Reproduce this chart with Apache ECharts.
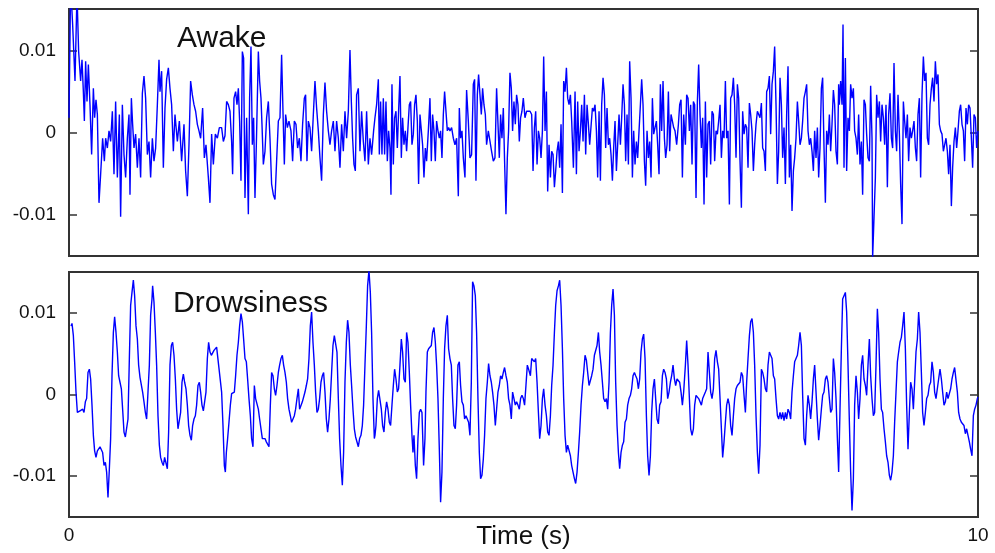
<!DOCTYPE html>
<html>
<head>
<meta charset="utf-8">
<script src="https://cdn.jsdelivr.net/npm/echarts@6/dist/echarts.min.js"></script>
<style>
  html, body { margin: 0; padding: 0; background: #fff; }
  #chart { width: 995px; height: 553px; }
</style>
</head>
<body>
<div id="chart"></div>
<script>
// amplitudes are read in units of 1e-3 (same unit as axis labels / 1000)
const UNIT = 1e-3;
const yTicks = [-0.01, 0, 0.01];
const xTicks = [0, 10];
const panelTitles = ['Awake', 'Drowsiness'];
const xTitle = 'Time (s)';

// [time (s), amplitude x1e-3]
const awake = [
  [0.000,1.8],[0.018,18],[0.040,13.2],[0.066,6.3],[0.088,17],[0.106,9.9],[0.128,6.3],[0.143,8.9],[0.158,5.0],[0.169,1.4],
  [0.183,8.7],[0.198,3.8],[0.213,8.3],[0.231,3.4],[0.249,-2.7],[0.268,5.4],[0.282,1.8],[0.297,4.0],[0.312,2.2],[0.330,-8.6],
  [0.348,-5.1],[0.370,-0.7],[0.389,-3.5],[0.403,-0.7],[0.422,-1.9],[0.440,0.2],[0.458,-1.1],[0.477,2.6],[0.495,-5.1],[0.513,3.8],
  [0.532,-5.5],[0.554,2.2],[0.568,-10.3],[0.587,3.4],[0.605,-2.7],[0.623,-5.5],[0.642,-0.7],[0.660,2.2],[0.671,-7.6],[0.686,4.2],
  [0.700,1.0],[0.715,-1.9],[0.733,-0.2],[0.752,-4.3],[0.770,-0.7],[0.788,-5.5],[0.807,4.8],[0.825,6.9],[0.843,4.2],[0.862,-2.7],
  [0.880,-1.1],[0.898,-5.5],[0.917,-0.7],[0.935,-3.5],[0.953,-1.9],[0.972,3.4],[0.990,8.9],[1.001,5.0],[1.019,7.5],[1.038,-4.3],
  [1.056,3.0],[1.074,6.5],[1.093,7.9],[1.111,5.4],[1.129,3.4],[1.148,-2.3],[1.166,2.2],[1.192,-1.1],[1.214,1.4],[1.239,-3.5],
  [1.265,1.0],[1.283,-4.7],[1.302,-7.8],[1.320,-1.5],[1.338,6.3],[1.357,4.6],[1.375,3.4],[1.393,2.6],[1.412,1.0],[1.430,0.2],
  [1.448,-0.7],[1.470,3.0],[1.489,-3.1],[1.507,-1.5],[1.533,-5.5],[1.551,-8.6],[1.569,-0.2],[1.588,-3.9],[1.610,-0.2],[1.632,-0.7],
  [1.654,0.6],[1.679,0.6],[1.698,-1.1],[1.716,-0.4],[1.734,3.8],[1.753,3.4],[1.771,2.6],[1.789,-1.1],[1.800,-5.1],[1.815,4.2],
  [1.833,5.0],[1.848,3.4],[1.863,5.4],[1.877,1.4],[1.892,-5.9],[1.907,9.9],[1.921,9.1],[1.936,-8.0],[1.954,1.8],[1.973,-10.0],
  [1.987,4.2],[2.002,10.5],[2.017,-1.5],[2.031,1.8],[2.046,-8.0],[2.061,-1.5],[2.083,9.9],[2.097,6.3],[2.112,4.2],[2.123,1.0],
  [2.138,-3.9],[2.156,-2.3],[2.174,1.8],[2.193,3.8],[2.211,-0.7],[2.229,-6.3],[2.248,-7.6],[2.266,-8.2],[2.284,-3.5],[2.303,1.4],
  [2.321,1.8],[2.339,9.5],[2.354,2.6],[2.369,-3.9],[2.383,2.2],[2.402,0.6],[2.420,1.4],[2.442,0.2],[2.460,-3.5],[2.479,1.4],
  [2.497,1.0],[2.515,-1.9],[2.534,-0.7],[2.552,-3.5],[2.570,1.0],[2.589,4.2],[2.603,4.6],[2.618,-3.5],[2.633,1.4],[2.651,0.6],
  [2.669,-2.3],[2.688,2.2],[2.706,6.3],[2.724,3.0],[2.743,0.2],[2.761,-3.1],[2.779,-5.9],[2.798,2.2],[2.816,6.1],[2.834,2.6],
  [2.853,0.2],[2.871,-1.5],[2.889,0.2],[2.908,1.4],[2.926,-2.3],[2.944,1.4],[2.963,-0.7],[2.981,-4.3],[2.999,1.0],[3.018,-2.3],
  [3.036,2.6],[3.054,-0.7],[3.073,2.6],[3.091,10.1],[3.106,3.8],[3.120,-0.7],[3.135,-3.9],[3.150,-4.7],[3.164,4.6],[3.183,5.4],
  [3.201,-2.3],[3.219,2.6],[3.238,-1.1],[3.256,-3.5],[3.274,2.6],[3.293,-3.9],[3.311,-0.7],[3.329,-2.7],[3.351,0.2],[3.366,1.8],
  [3.384,3.4],[3.403,6.5],[3.414,-2.7],[3.428,3.8],[3.443,-2.7],[3.458,4.2],[3.472,-2.7],[3.487,3.8],[3.502,-3.5],[3.516,0.2],
  [3.531,-1.9],[3.542,-7.6],[3.553,5.9],[3.568,-3.9],[3.582,1.8],[3.597,2.6],[3.612,-1.9],[3.626,2.6],[3.641,6.9],[3.656,-3.1],
  [3.670,1.8],[3.685,-1.5],[3.700,0.2],[3.714,-2.3],[3.729,0.6],[3.744,3.4],[3.758,3.8],[3.773,-1.5],[3.788,-0.2],[3.802,3.4],
  [3.817,4.6],[3.832,1.4],[3.846,-6.3],[3.861,2.2],[3.876,2.4],[3.890,-1.5],[3.905,-5.5],[3.920,-1.9],[3.934,-3.5],[3.953,0.2],
  [3.971,4.2],[3.986,-3.5],[4.000,2.2],[4.015,0.2],[4.030,-3.5],[4.044,1.4],[4.059,0.2],[4.074,-0.7],[4.088,0.2],[4.103,-3.1],
  [4.118,2.2],[4.132,5.0],[4.147,5.0],[4.162,0.2],[4.176,0.6],[4.191,0.2],[4.209,0.6],[4.228,-0.7],[4.246,-1.5],[4.264,-0.7],
  [4.283,-7.8],[4.294,3.0],[4.308,-0.7],[4.323,0.2],[4.338,-3.1],[4.356,-5.5],[4.374,5.2],[4.393,1.4],[4.411,-3.1],[4.429,-2.7],
  [4.448,5.9],[4.462,6.5],[4.477,-5.9],[4.492,4.6],[4.506,7.1],[4.521,7.3],[4.536,2.2],[4.550,5.4],[4.565,3.4],[4.580,2.2],
  [4.594,-1.5],[4.613,0.2],[4.631,0.2],[4.649,-2.3],[4.668,-3.5],[4.686,-3.1],[4.704,5.4],[4.719,5.4],[4.734,-3.1],[4.748,2.2],
  [4.763,-0.7],[4.778,3.0],[4.792,-3.5],[4.807,-10.0],[4.822,-3.1],[4.836,0.2],[4.851,7.3],[4.866,5.4],[4.880,0.2],[4.895,3.8],
  [4.910,1.0],[4.924,4.6],[4.939,3.4],[4.954,-1.1],[4.968,1.8],[4.983,2.6],[4.998,4.2],[5.016,1.8],[5.034,2.6],[5.056,2.4],
  [5.072,2.6],[5.090,2.2],[5.105,-4.7],[5.120,0.6],[5.134,2.6],[5.149,-3.9],[5.164,0.2],[5.178,-0.7],[5.193,-3.1],[5.208,0.2],
  [5.222,9.3],[5.237,0.2],[5.252,5.0],[5.266,-7.2],[5.281,-1.5],[5.296,-5.5],[5.310,-2.3],[5.325,-2.7],[5.340,-6.7],[5.354,-4.7],
  [5.369,-2.3],[5.384,-1.1],[5.398,-4.3],[5.413,1.0],[5.428,-7.4],[5.442,6.3],[5.457,5.0],[5.472,7.9],[5.486,4.2],[5.501,3.4],
  [5.516,4.6],[5.530,1.4],[5.549,-4.3],[5.567,5.0],[5.582,-5.1],[5.596,3.8],[5.611,-2.3],[5.626,0.2],[5.640,3.4],[5.655,-1.1],
  [5.670,4.6],[5.684,-2.7],[5.699,3.4],[5.714,1.0],[5.728,-1.5],[5.743,-1.5],[5.758,3.0],[5.772,2.6],[5.787,3.4],[5.802,0.2],
  [5.816,-5.5],[5.831,2.6],[5.846,-5.9],[5.860,3.4],[5.875,6.7],[5.890,4.6],[5.904,-1.9],[5.919,3.0],[5.934,-1.5],[5.948,-0.7],
  [5.963,-2.7],[5.978,-5.9],[5.992,-1.9],[6.007,1.4],[6.022,-4.7],[6.036,-1.5],[6.051,2.2],[6.066,-1.5],[6.080,1.8],[6.095,5.9],
  [6.110,3.4],[6.124,-3.5],[6.139,2.2],[6.154,-3.9],[6.168,8.7],[6.183,4.2],[6.198,-5.5],[6.212,0.2],[6.227,-3.9],[6.242,-1.1],
  [6.256,-3.1],[6.271,0.2],[6.286,3.4],[6.300,6.5],[6.315,3.4],[6.330,-3.5],[6.344,-6.5],[6.359,0.2],[6.374,-3.1],[6.388,-1.1],
  [6.403,-5.5],[6.418,4.2],[6.432,-0.2],[6.447,-0.2],[6.462,1.4],[6.476,-1.5],[6.491,-5.1],[6.506,5.9],[6.520,0.2],[6.535,6.3],
  [6.550,-0.7],[6.564,-3.1],[6.579,-1.5],[6.594,5.0],[6.608,-2.3],[6.623,2.2],[6.638,1.4],[6.652,0.6],[6.667,0.2],[6.685,-1.5],
  [6.704,1.0],[6.718,3.4],[6.733,4.0],[6.748,-5.5],[6.762,2.2],[6.781,-1.5],[6.795,4.6],[6.810,4.2],[6.825,0.2],[6.839,3.4],
  [6.854,-3.9],[6.869,3.8],[6.883,3.4],[6.898,-8.0],[6.913,3.8],[6.927,8.3],[6.942,2.2],[6.957,-1.9],[6.971,1.8],[6.986,-8.8],
  [7.001,3.8],[7.015,-5.5],[7.030,1.0],[7.045,1.4],[7.059,-3.9],[7.074,2.6],[7.089,2.2],[7.103,-3.5],[7.118,0.2],[7.133,-0.2],
  [7.147,1.4],[7.162,3.4],[7.177,-3.1],[7.191,0.2],[7.206,-0.7],[7.221,6.3],[7.235,-0.7],[7.250,0.2],[7.265,-8.8],[7.279,4.2],
  [7.294,4.6],[7.309,6.7],[7.323,3.4],[7.338,-3.1],[7.353,5.9],[7.367,4.2],[7.382,-3.5],[7.397,-9.2],[7.411,2.6],[7.426,-0.2],
  [7.441,1.0],[7.455,0.6],[7.470,-4.3],[7.485,3.6],[7.499,2.2],[7.514,0.2],[7.529,-4.7],[7.543,-1.5],[7.558,1.0],[7.573,2.6],
  [7.587,2.6],[7.602,1.8],[7.617,3.6],[7.631,-1.9],[7.646,-2.3],[7.661,-4.7],[7.675,5.0],[7.690,5.4],[7.705,6.9],[7.719,-0.2],
  [7.734,5.9],[7.749,7.5],[7.763,10.5],[7.778,3.4],[7.793,-6.3],[7.807,-2.3],[7.822,6.7],[7.837,3.4],[7.851,-3.1],[7.866,0.6],
  [7.881,-6.3],[7.895,2.2],[7.910,8.1],[7.925,-5.5],[7.939,-1.5],[7.954,-9.6],[7.969,-4.7],[7.983,-3.1],[7.998,-0.7],[8.013,3.8],
  [8.027,1.4],[8.042,-1.5],[8.057,-0.7],[8.071,1.4],[8.086,4.2],[8.101,5.0],[8.115,5.9],[8.130,0.2],[8.145,-1.5],[8.159,-0.7],
  [8.174,-2.3],[8.189,-4.7],[8.203,0.2],[8.218,-3.1],[8.233,0.6],[8.247,-5.5],[8.262,-1.9],[8.277,5.4],[8.291,6.7],[8.306,-1.9],
  [8.321,-8.6],[8.335,0.2],[8.350,-1.5],[8.365,2.2],[8.379,-2.3],[8.394,1.0],[8.409,5.2],[8.423,3.4],[8.438,-2.3],[8.453,-3.9],
  [8.467,5.9],[8.475,3.4],[8.489,6.3],[8.504,3.4],[8.515,13.2],[8.526,-4.3],[8.541,9.1],[8.555,-4.7],[8.570,1.8],[8.585,0.2],
  [8.599,5.9],[8.614,4.2],[8.629,5.4],[8.643,0.2],[8.658,-0.7],[8.673,-2.7],[8.687,2.2],[8.702,-3.9],[8.717,-1.1],[8.731,-7.6],
  [8.746,4.0],[8.761,3.4],[8.775,-0.2],[8.790,-3.1],[8.805,-3.5],[8.819,5.7],[8.834,-0.7],[8.841,-15.3],[8.856,-10.4],[8.871,-5.5],
  [8.885,4.6],[8.900,1.8],[8.915,3.8],[8.929,-1.1],[8.944,3.4],[8.959,1.8],[8.973,-1.5],[8.988,3.4],[9.003,-6.7],[9.017,2.2],
  [9.032,4.8],[9.047,-0.7],[9.061,-1.9],[9.076,8.5],[9.091,0.2],[9.105,-2.3],[9.120,4.6],[9.135,-0.2],[9.149,-6.3],[9.164,-11.2],
  [9.179,3.8],[9.193,1.4],[9.208,-0.7],[9.223,2.2],[9.237,-3.5],[9.252,0.6],[9.267,-0.7],[9.281,0.2],[9.296,1.4],[9.311,-1.9],
  [9.325,-3.5],[9.340,2.2],[9.355,4.2],[9.369,-5.5],[9.384,4.6],[9.399,9.3],[9.413,6.3],[9.428,7.3],[9.443,-0.7],[9.457,-1.5],
  [9.472,3.4],[9.487,5.4],[9.501,6.7],[9.516,3.8],[9.531,8.7],[9.545,5.9],[9.560,7.1],[9.575,1.0],[9.589,0.2],[9.604,-0.2],
  [9.619,-2.3],[9.633,-1.5],[9.648,-0.7],[9.663,-2.3],[9.677,-5.1],[9.692,-1.5],[9.707,-9.0],[9.721,-4.3],[9.736,-1.1],[9.751,0.6],
  [9.765,-1.9],[9.780,0.2],[9.795,2.6],[9.809,3.4],[9.824,1.0],[9.839,0.2],[9.853,-3.5],[9.868,3.0],[9.883,1.0],[9.897,3.4],
  [9.912,3.0],[9.927,-0.7],[9.941,-4.3],[9.956,2.2],[9.971,1.8],[9.985,-1.9],[10.000,0.2]
];

const drowsy = [
  [0.022,8.4],[0.033,8.7],[0.048,7.2],[0.062,4.0],[0.077,0.3],[0.092,-2.2],[0.106,-2.4],[0.121,-2.0],[0.136,-2.2],[0.150,-1.8],
  [0.165,-2.2],[0.180,-0.9],[0.194,-0.5],[0.209,2.7],[0.224,3.1],[0.238,1.9],[0.253,-1.3],[0.268,-5.0],[0.282,-6.9],[0.297,-7.7],
  [0.312,-6.9],[0.326,-6.7],[0.341,-6.4],[0.356,-6.2],[0.370,-7.1],[0.385,-8.7],[0.400,-8.3],[0.414,-9.5],[0.429,-12.6],[0.444,-9.1],
  [0.458,-5.4],[0.473,2.3],[0.488,7.6],[0.502,9.5],[0.517,7.6],[0.532,5.2],[0.546,2.3],[0.561,1.5],[0.576,0.7],[0.590,-1.8],
  [0.605,-4.6],[0.620,-5.2],[0.634,-5.4],[0.649,-3.0],[0.664,4.4],[0.678,10.9],[0.693,12.5],[0.708,14.0],[0.722,12.1],[0.737,8.4],
  [0.752,6.8],[0.766,3.6],[0.781,2.1],[0.796,1.9],[0.810,0.3],[0.825,-0.9],[0.840,-2.2],[0.854,-3.0],[0.869,0.3],[0.884,3.6],
  [0.898,9.7],[0.913,11.7],[0.920,13.3],[0.935,11.3],[0.950,7.6],[0.964,3.6],[0.979,-2.6],[0.994,-6.2],[1.008,-7.7],[1.023,-8.3],
  [1.038,-8.7],[1.052,-7.7],[1.067,-7.5],[1.082,-9.1],[1.096,-4.6],[1.111,3.6],[1.126,6.0],[1.140,6.4],[1.155,4.8],[1.170,1.9],
  [1.184,-1.8],[1.199,-4.2],[1.214,-4.2],[1.228,-2.2],[1.243,1.5],[1.258,2.5],[1.272,1.5],[1.287,0.7],[1.302,-1.3],[1.316,-3.8],
  [1.331,-5.0],[1.346,-5.6],[1.360,-3.8],[1.375,-3.0],[1.390,-2.6],[1.404,-1.3],[1.419,1.1],[1.434,1.5],[1.448,0.3],[1.463,-1.3],
  [1.478,-2.0],[1.492,-0.9],[1.507,0.3],[1.522,4.4],[1.536,6.4],[1.551,5.2],[1.566,4.8],[1.580,5.0],[1.595,5.4],[1.610,5.6],
  [1.624,5.8],[1.646,3.6],[1.661,3.6],[1.679,0.3],[1.694,-3.8],[1.709,-8.7],[1.720,-9.5],[1.731,-7.1],[1.745,-5.4],[1.760,-3.4],
  [1.775,-1.3],[1.789,0.1],[1.804,-0.1],[1.819,0.3],[1.833,2.3],[1.848,4.8],[1.863,6.4],[1.877,8.4],[1.892,9.9],[1.907,8.9],
  [1.921,6.8],[1.936,4.4],[1.951,4.0],[1.965,1.9],[1.980,-0.5],[1.995,-2.6],[2.009,-5.4],[2.024,-6.4],[2.039,1.1],[2.053,-0.5],
  [2.068,-0.3],[2.083,-1.8],[2.097,-3.0],[2.112,-4.2],[2.127,-5.4],[2.141,-5.6],[2.156,-5.4],[2.171,-5.8],[2.185,-5.6],[2.200,-6.4],
  [2.215,-1.3],[2.229,2.7],[2.244,2.3],[2.259,0.7],[2.273,-0.1],[2.288,1.1],[2.303,2.7],[2.317,3.6],[2.332,4.4],[2.347,4.8],
  [2.361,3.6],[2.376,2.7],[2.391,1.5],[2.405,-0.5],[2.420,-1.8],[2.435,-2.6],[2.449,-3.4],[2.464,-3.0],[2.479,-2.6],[2.493,-1.8],
  [2.508,-0.5],[2.523,0.7],[2.537,-1.8],[2.552,-1.8],[2.567,-0.9],[2.581,-0.7],[2.596,0.3],[2.611,1.1],[2.625,1.9],[2.640,4.4],
  [2.655,8.4],[2.669,10.1],[2.684,6.4],[2.699,3.6],[2.713,0.3],[2.728,-2.2],[2.743,-1.8],[2.757,-0.5],[2.772,1.5],[2.787,2.3],
  [2.801,2.7],[2.816,0.3],[2.831,-3.0],[2.845,-4.6],[2.860,-3.0],[2.875,-0.5],[2.889,2.7],[2.904,6.0],[2.919,7.2],[2.933,7.0],
  [2.948,5.2],[2.963,-0.5],[2.977,-5.4],[2.992,-8.7],[3.007,-11.1],[3.021,-7.1],[3.036,1.5],[3.051,6.4],[3.065,9.1],[3.080,7.6],
  [3.095,3.6],[3.109,1.1],[3.124,-1.8],[3.139,-4.2],[3.153,-5.2],[3.168,-5.4],[3.183,-6.4],[3.197,-5.4],[3.212,-5.0],[3.227,-3.8],
  [3.241,-1.3],[3.256,3.6],[3.271,8.4],[3.285,13.3],[3.300,15.2],[3.315,12.5],[3.329,7.6],[3.344,-0.5],[3.359,-5.4],[3.366,-5.0],
  [3.377,-3.8],[3.392,-0.5],[3.406,0.5],[3.421,0.3],[3.436,-1.8],[3.450,-3.8],[3.465,-4.6],[3.480,-2.2],[3.494,-0.9],[3.509,-1.8],
  [3.524,-3.4],[3.538,-3.8],[3.553,-1.3],[3.568,1.1],[3.582,3.1],[3.597,1.9],[3.612,0.3],[3.626,0.7],[3.641,3.6],[3.656,6.8],
  [3.670,5.2],[3.685,1.9],[3.700,1.5],[3.714,7.6],[3.729,6.4],[3.744,2.7],[3.758,-1.3],[3.773,-5.0],[3.784,-7.1],[3.795,-5.0],
  [3.810,-8.7],[3.824,-10.3],[3.839,-5.4],[3.854,-2.2],[3.868,-1.8],[3.883,-2.2],[3.901,-8.7],[3.916,-5.4],[3.927,0.3],[3.942,5.2],
  [3.956,5.6],[3.971,5.8],[3.986,6.0],[4.000,7.6],[4.015,8.2],[4.030,6.4],[4.044,3.6],[4.059,-0.5],[4.074,-6.7],[4.088,-13.2],
  [4.103,-9.5],[4.118,-0.5],[4.132,5.6],[4.147,8.4],[4.162,9.7],[4.176,5.6],[4.191,4.4],[4.206,3.6],[4.220,-0.5],[4.235,-3.8],
  [4.250,-4.2],[4.264,-1.3],[4.279,3.6],[4.294,4.0],[4.308,1.1],[4.323,-0.9],[4.338,-1.3],[4.352,-3.0],[4.367,-2.6],[4.382,-2.8],
  [4.396,-3.4],[4.411,-5.0],[4.426,1.5],[4.440,13.8],[4.455,13.3],[4.470,12.1],[4.484,7.6],[4.499,-0.5],[4.514,-7.1],[4.528,-10.3],
  [4.543,-9.9],[4.558,-7.9],[4.572,-5.0],[4.587,-0.5],[4.602,1.5],[4.616,3.8],[4.631,2.3],[4.646,1.5],[4.660,0.3],[4.675,-1.3],
  [4.690,-3.8],[4.704,-1.8],[4.719,0.3],[4.734,1.1],[4.748,2.3],[4.763,1.9],[4.778,2.7],[4.792,3.3],[4.807,2.3],[4.822,1.5],
  [4.836,-0.5],[4.851,-1.3],[4.866,-3.0],[4.880,0.3],[4.895,0.1],[4.910,-1.3],[4.924,-0.9],[4.939,-1.3],[4.954,-1.8],[4.968,-0.5],
  [4.983,-0.1],[4.998,-0.5],[5.012,-1.3],[5.027,1.1],[5.042,3.6],[5.056,3.1],[5.076,2.3],[5.090,4.4],[5.105,4.6],[5.120,4.0],
  [5.134,4.4],[5.149,1.5],[5.164,-2.2],[5.178,-5.4],[5.193,-3.8],[5.208,-0.5],[5.222,0.7],[5.237,-1.3],[5.252,-2.6],[5.266,-4.6],
  [5.281,-5.0],[5.296,-2.6],[5.310,1.1],[5.325,3.6],[5.340,7.6],[5.354,10.9],[5.369,12.7],[5.384,13.3],[5.398,14.0],[5.413,10.9],
  [5.428,5.6],[5.442,-0.5],[5.457,-5.0],[5.472,-7.1],[5.486,-6.2],[5.501,-6.4],[5.516,-7.5],[5.530,-8.7],[5.545,-9.5],[5.560,-10.3],
  [5.574,-10.9],[5.589,-9.5],[5.604,-7.1],[5.618,-4.6],[5.633,-1.3],[5.648,1.1],[5.662,2.7],[5.677,4.8],[5.692,4.2],[5.706,2.7],
  [5.721,1.1],[5.736,1.1],[5.750,2.3],[5.765,3.1],[5.780,4.8],[5.794,5.0],[5.809,6.0],[5.824,7.6],[5.838,5.2],[5.853,3.6],
  [5.868,1.5],[5.882,-0.5],[5.897,-0.9],[5.912,-0.5],[5.926,-1.8],[5.941,1.5],[5.956,7.6],[5.970,10.9],[5.985,12.9],[6.000,9.7],
  [6.014,1.5],[6.029,-3.8],[6.044,-7.1],[6.058,-9.1],[6.073,-7.1],[6.088,-6.2],[6.102,-5.8],[6.117,-3.4],[6.132,-3.0],[6.146,-1.3],
  [6.161,-0.5],[6.176,-0.1],[6.190,0.7],[6.205,2.3],[6.220,2.7],[6.234,2.3],[6.249,1.9],[6.264,0.7],[6.278,1.9],[6.293,5.2],
  [6.308,6.8],[6.322,7.4],[6.337,4.4],[6.352,-2.6],[6.366,-7.5],[6.381,-9.9],[6.396,-7.5],[6.410,-2.2],[6.425,0.7],[6.440,1.9],
  [6.454,-0.5],[6.469,-3.0],[6.484,-3.6],[6.498,-1.3],[6.513,-0.9],[6.528,2.3],[6.542,3.1],[6.557,2.7],[6.572,1.9],[6.586,-0.5],
  [6.601,0.3],[6.616,1.5],[6.630,2.3],[6.645,3.6],[6.660,1.9],[6.674,1.1],[6.689,1.9],[6.704,1.9],[6.718,1.5],[6.733,0.3],
  [6.748,-1.3],[6.762,0.3],[6.781,3.6],[6.795,6.6],[6.810,3.6],[6.825,-0.5],[6.839,-4.2],[6.854,-5.0],[6.869,-4.2],[6.883,-1.3],
  [6.898,-0.1],[6.913,-0.3],[6.927,-0.5],[6.942,-0.9],[6.957,-1.3],[6.971,-0.5],[6.986,-0.1],[7.001,0.3],[7.015,0.7],[7.030,5.2],
  [7.045,2.7],[7.059,0.3],[7.074,-0.5],[7.089,0.7],[7.103,4.4],[7.118,5.4],[7.133,4.0],[7.147,3.1],[7.162,-0.5],[7.177,-4.2],
  [7.191,-7.7],[7.206,-5.8],[7.221,-3.4],[7.235,-1.3],[7.250,-0.5],[7.265,-1.3],[7.279,-3.8],[7.294,-5.0],[7.309,-2.6],[7.323,-0.5],
  [7.338,0.7],[7.353,1.1],[7.367,1.1],[7.382,1.5],[7.397,2.7],[7.411,2.3],[7.426,-0.1],[7.441,-2.2],[7.455,1.5],[7.470,4.4],
  [7.485,7.2],[7.499,8.9],[7.514,9.3],[7.529,7.6],[7.543,3.6],[7.558,-2.6],[7.573,-7.1],[7.587,-9.7],[7.602,-6.2],[7.617,3.1],
  [7.631,2.7],[7.646,1.9],[7.661,0.7],[7.675,0.3],[7.690,3.6],[7.705,5.2],[7.719,5.4],[7.734,4.4],[7.749,2.3],[7.763,1.9],
  [7.778,-0.5],[7.793,-2.6],[7.807,-3.0],[7.822,-2.2],[7.837,-3.0],[7.851,-2.2],[7.866,-3.2],[7.881,-2.2],[7.895,-3.0],[7.910,-1.8],
  [7.925,-2.2],[7.939,-3.0],[7.954,0.3],[7.969,2.3],[7.983,4.0],[7.998,4.4],[8.013,4.8],[8.027,6.0],[8.042,7.6],[8.057,6.0],
  [8.071,-0.1],[8.086,-5.4],[8.101,-6.2],[8.115,-2.6],[8.130,-0.1],[8.145,-1.3],[8.159,-3.0],[8.174,-0.9],[8.189,1.9],[8.203,3.6],
  [8.218,0.3],[8.233,-3.0],[8.247,-5.6],[8.262,-3.8],[8.277,-1.8],[8.291,-0.1],[8.306,0.3],[8.321,1.9],[8.335,2.3],[8.350,1.5],
  [8.365,-0.5],[8.379,-2.2],[8.394,-1.8],[8.409,4.4],[8.423,2.7],[8.438,-0.5],[8.453,-5.4],[8.467,-9.5],[8.482,-1.8],[8.497,5.6],
  [8.511,11.7],[8.526,12.1],[8.541,12.5],[8.555,10.1],[8.570,3.6],[8.585,-3.4],[8.599,-9.5],[8.614,-14.2],[8.629,-10.3],[8.643,-1.3],
  [8.658,2.3],[8.673,0.3],[8.687,-3.0],[8.702,-0.5],[8.717,3.6],[8.731,4.8],[8.746,1.9],[8.761,1.1],[8.775,-0.1],[8.790,3.6],
  [8.805,6.8],[8.819,2.3],[8.834,-0.5],[8.849,-2.6],[8.863,-2.2],[8.878,3.6],[8.893,10.5],[8.907,7.6],[8.922,1.9],[8.937,-1.8],
  [8.951,-2.2],[8.966,-4.2],[8.981,-5.8],[8.995,-7.5],[9.010,-8.3],[9.025,-9.9],[9.039,-10.5],[9.054,-9.5],[9.069,-7.5],[9.083,-3.4],
  [9.098,0.3],[9.113,4.0],[9.127,5.2],[9.142,6.4],[9.157,7.0],[9.171,8.4],[9.186,10.1],[9.201,5.6],[9.215,-1.3],[9.230,-6.7],
  [9.245,-2.2],[9.259,1.5],[9.274,0.7],[9.289,-1.8],[9.303,1.5],[9.318,5.2],[9.333,6.8],[9.347,10.1],[9.362,7.6],[9.377,2.7],
  [9.391,-2.2],[9.406,-3.8],[9.421,-2.2],[9.435,-0.5],[9.450,-0.1],[9.465,1.1],[9.479,1.5],[9.494,4.0],[9.509,2.7],[9.523,0.3],
  [9.538,-0.5],[9.553,-0.5],[9.567,1.9],[9.582,3.1],[9.597,1.9],[9.611,0.3],[9.626,-1.3],[9.641,-0.9],[9.655,0.3],[9.670,-0.5],
  [9.685,-0.5],[9.699,0.7],[9.714,1.9],[9.729,2.7],[9.743,3.3],[9.758,3.1],[9.773,0.3],[9.787,-2.2],[9.802,-3.0],[9.817,-3.4],
  [9.831,-3.2],[9.846,-3.8],[9.861,-4.8],[9.875,-4.2],[9.890,-5.0],[9.905,-5.8],[9.919,-6.7],[9.934,-7.5],[9.949,-2.6],[9.963,-1.8],
  [9.978,-1.3],[9.993,-0.5],[10.000,-0.3]
];

const chart = echarts.init(document.getElementById('chart'), null, { renderer: 'canvas' });

const FONT = 'Liberation Sans, Arial, sans-serif';
const frame = {
  show: true, left: 69, right: 17, outerBoundsMode: 'none', containLabel: false,
  borderColor: '#333', borderWidth: 2, backgroundColor: '#fff'
};

function yAx(grid, right) {
  return {
    gridIndex: grid,
    type: 'value',
    position: right ? 'right' : 'left',
    min: grid === 0 ? -0.0151 : -0.015,
    max: grid === 0 ? 0.0151 : 0.015,
    axisLine: { show: false },
    splitLine: { show: false },
    axisTick: { show: true, inside: true, length: 8, customValues: yTicks, lineStyle: { color: '#333', width: 1.5 } },
    axisLabel: {
      show: !right,
      customValues: yTicks,
      margin: 13,
      color: '#111',
      fontSize: 19,
      fontFamily: FONT,
      formatter: v => (v === 0 ? '0' : String(v))
    }
  };
}

const toSeries = arr => arr.map(p => [p[0], p[1] * UNIT]);

chart.setOption({
  animation: false,
  backgroundColor: '#fff',
  grid: [
    Object.assign({ top: 9, height: 247 }, frame),
    Object.assign({ top: 272, height: 245 }, frame)
  ],
  xAxis: [
    {
      gridIndex: 0, type: 'value', min: 0, max: 10,
      axisLine: { show: false }, axisTick: { show: false }, axisLabel: { show: false }, splitLine: { show: false }
    },
    {
      gridIndex: 1, type: 'value', min: 0, max: 10, interval: 10,
      axisLine: { show: false }, axisTick: { show: false }, splitLine: { show: false },
      axisLabel: { customValues: xTicks, margin: 9, color: '#111', fontSize: 19, fontFamily: FONT }
    }
  ],
  yAxis: [yAx(0, false), yAx(0, true), yAx(1, false), yAx(1, true)],
  graphic: [
    { type: 'text', left: 177, top: 24, z: 10, style: { text: panelTitles[0], fontSize: 30, fontFamily: FONT, fill: '#111' } },
    { type: 'text', left: 173, top: 289, z: 10, style: { text: panelTitles[1], fontSize: 30, fontFamily: FONT, fill: '#111' } },
    {
      type: 'text', x: 523.5, y: 537, z: 10,
      style: { text: xTitle, fontSize: 26, fontFamily: FONT, fill: '#111', align: 'center', verticalAlign: 'middle' }
    }
  ],
  series: [
    {
      type: 'line', xAxisIndex: 0, yAxisIndex: 0, data: toSeries(awake),
      showSymbol: false, symbol: 'none', clip: true,
      lineStyle: { color: '#0000ff', width: 1.4 }
    },
    {
      type: 'line', xAxisIndex: 1, yAxisIndex: 2, data: toSeries(drowsy),
      showSymbol: false, symbol: 'none', clip: true,
      lineStyle: { color: '#0000ff', width: 1.4 }
    }
  ]
});
</script>
</body>
</html>
